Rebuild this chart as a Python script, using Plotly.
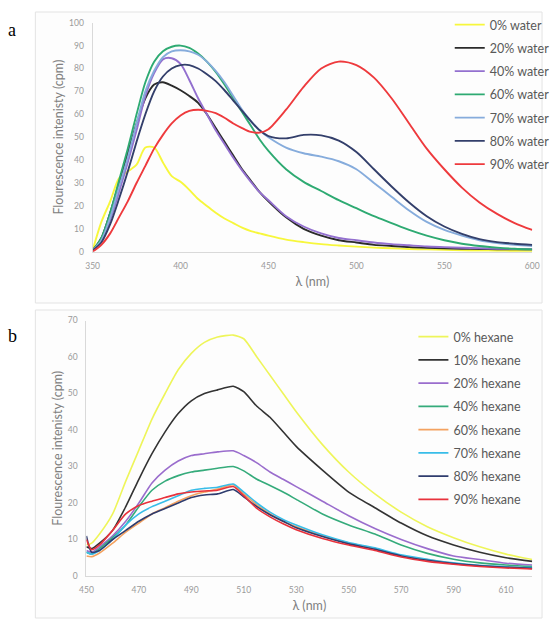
import plotly.graph_objects as go

# ---------------- Panel a data ----------------
wl_a = [350, 355, 360, 365, 370, 375, 380, 385, 390, 395, 400, 405, 410, 415, 420, 425,
        430, 435, 440, 445, 450, 460, 470, 480, 490, 500, 510, 520, 530, 540, 550, 560,
        570, 580, 590, 600]
water_0 = [0.5, 13, 22, 32, 35, 38, 45.5, 45.5, 39, 33, 30.5, 27, 23, 20, 17, 14.5,
           12.5, 10.5, 9, 8, 7, 5.3, 4.2, 3.3, 2.7, 2.2, 1.8, 1.5, 1.2, 1, 0.8, 0.6,
           0.5, 0.4, 0.3, 0.3]
water_20 = [0.5, 6, 17, 30, 43, 56, 67, 73, 74, 72.5, 70.5, 68, 65, 60, 54, 48,
            42, 36, 31, 26, 22, 15, 10, 7, 5, 4, 3, 2.5, 2, 1.7, 1.5, 1.3,
            1.2, 1.1, 1, 1]
water_40 = [0.5, 5, 14, 26, 39, 53, 68, 78, 84, 84.5, 82, 75, 67, 60, 53, 47,
            41, 35.5, 30.5, 26, 22.5, 15.5, 11, 8, 6, 5, 4, 3.3, 2.8, 2.3, 2, 1.7,
            1.5, 1.3, 1.2, 1]
water_60 = [0.5, 6, 17, 31, 45, 60, 74, 83, 87.5, 89.5, 90, 89, 86.5, 83, 78.5, 73,
            67, 61, 55, 49, 44, 36, 30.5, 26.5, 22.5, 19, 15.5, 12.5, 9.5, 7, 5, 3.5,
            2.5, 1.8, 1.3, 1]
water_70 = [0.5, 5, 15, 28, 41, 56, 70, 79, 85, 87.5, 88, 87.5, 86, 83, 79, 74,
            68, 62, 57, 53, 50, 45.5, 43, 41.5, 39.5, 36, 30, 24, 18, 13, 9.5, 7,
            5, 3.8, 3, 2.5]
water_80 = [0.5, 4, 12, 23, 35, 48, 60, 70, 76.5, 80, 81.5, 81.5, 80, 77.5, 74.5, 70.5,
            66, 61.5, 57, 53, 50.5, 49.5, 51, 50.8, 48.5, 43.5, 36, 28.5, 21.5, 15.5, 11, 7.8,
            5.5, 4.2, 3.5, 3]
water_90 = [0, 3, 8, 15, 22, 30, 37.5, 45, 51, 56, 59.5, 61.5, 62, 61.5, 60.5, 58.5,
            56, 54, 52.3, 52, 53.5, 62, 72, 80, 83, 81.5, 76, 67, 56, 45, 36, 28,
            21.5, 16.5, 12.5, 9.5]

names_a = ["0% water", "20% water", "40% water", "60% water", "70% water", "80% water", "90% water"]
series_a = [water_0, water_20, water_40, water_60, water_70, water_80, water_90]
colors_a = ["#f7f73c", "#2b2b2b", "#9370cf", "#2eaa72", "#86acdc", "#333f6b", "#ee3a3d"]

# ---------------- Panel b data ----------------
wl_b = [450, 452, 455, 460, 465, 470, 475, 480, 485, 490, 495, 500, 506, 510, 515, 520,
        525, 530, 540, 550, 560, 570, 580, 590, 600, 610, 620]
hex_0 = [8.5, 9, 11.5, 17, 26, 34.5, 43, 50, 56.5, 61, 64, 65.5, 66, 65, 60, 55,
         50, 45, 36, 28.5, 22.5, 17.5, 13.5, 10.5, 8, 6, 4.5]
hex_10 = [8, 7.5, 9, 12.5, 19, 26.5, 33.5, 39.5, 44.5, 48, 50, 51, 52, 50.5, 46.5, 43.5,
          39.5, 35.5, 29, 23, 18.7, 14.5, 11, 8.5, 6.5, 5, 4]
hex_20 = [7, 6.5, 8, 11, 15, 20, 25.5, 29, 31.5, 33, 33.5, 34, 34.3, 33, 31, 28.5,
          26.5, 24.5, 20.5, 16.5, 13, 10, 7.5, 5.5, 4.5, 3.5, 3]
hex_40 = [6.5, 6, 7.5, 10.5, 14, 19, 23.5, 26, 27.5, 28.5, 29, 29.5, 30, 28.8, 26.5, 24.8,
          23, 21, 17, 14, 11.5, 8.5, 6.2, 4.6, 3.6, 3, 2.6]
hex_60 = [5.5, 5.3, 6.3, 9, 12, 14.5, 17, 18.7, 20.5, 22, 23, 23.8, 25, 22.5, 19.5, 17,
          15, 13.5, 11, 9, 7.5, 5.5, 4.5, 3.5, 2.8, 2.4, 2.2]
hex_70 = [6.5, 6, 7, 10, 14, 17, 19, 20.5, 22, 23.5, 24, 24.3, 25.2, 23, 20, 17.5,
          15.5, 14, 11.3, 9.2, 7.7, 5.8, 4.6, 3.6, 2.9, 2.5, 2.3]
hex_80 = [11, 6.5, 7, 10, 12.5, 15, 17, 18.5, 20, 21.5, 22.2, 22.5, 23.7, 21.7, 19, 16.8,
          15, 13.2, 10.8, 8.8, 7.3, 5.5, 4.3, 3.4, 2.8, 2.4, 2.1]
hex_90 = [10, 7.2, 8.5, 12.5, 17, 19.3, 20.5, 21.5, 22.5, 23, 23.3, 23.5, 24.5, 22, 18.5, 16.2,
          14.3, 12.7, 10.3, 8.5, 7, 5.2, 4, 3.2, 2.6, 2.2, 1.9]

names_b = ["0% hexane", "10% hexane", "20% hexane", "40% hexane", "60% hexane",
           "70% hexane", "80% hexane", "90% hexane"]
series_b = [hex_0, hex_10, hex_20, hex_40, hex_60, hex_70, hex_80, hex_90]
colors_b = ["#eef55a", "#333333", "#9a6dcd", "#35ab7b", "#f4a260", "#38bde8", "#2f3c6e", "#e8323c"]

ticks_a = [350, 400, 450, 500, 550, 600]
ticks_b = [450, 470, 490, 510, 530, 550, 570, 590, 610]

W, H = 555, 619
FONT = "Lato"

fig = go.Figure()
for i, (n, s, c) in enumerate(zip(names_a, series_a, colors_a)):
    fig.add_trace(go.Scatter(x=wl_a, y=s, name=n, mode="lines",
                             line=dict(color=c, width=1.9, shape="spline", smoothing=0.8),
                             xaxis="x", yaxis="y", legend="legend", legendgroup="a%d" % i))
for i, (n, s, c) in enumerate(zip(names_b, series_b, colors_b)):
    fig.add_trace(go.Scatter(x=wl_b, y=s, name=n, mode="lines",
                             line=dict(color=c, width=1.6, shape="spline", smoothing=0.6),
                             xaxis="x2", yaxis="y2", legend="legend2", legendgroup="b%d" % i))

def px_x(p):
    return p / W

def px_y(p):
    return 1 - p / H

axis_common = dict(showgrid=False, zeroline=False, showline=True, linecolor="#d9d9d9",
                   linewidth=1, ticks="", tickfont=dict(family=FONT, size=8.5, color="#9a9a9a"),
                   ticklabelstandoff=6, automargin=False)
title_font = dict(family=FONT, size=12.5, color="#808080")

fig.update_layout(
    width=W, height=H,
    margin=dict(l=0, r=0, t=0, b=0),
    paper_bgcolor="white", plot_bgcolor="rgba(0,0,0,0)",
    xaxis=dict(domain=[px_x(94.3), px_x(542)], range=[350, 600], tickvals=ticks_a,
               anchor="y", title=dict(text="λ (nm)", font=title_font, standoff=7), **axis_common),
    yaxis=dict(domain=[px_y(251.7), px_y(22.7)], range=[0, 100], dtick=10, anchor="x",
               title=dict(text="Flourescence intenisty (cpm)", font=title_font, standoff=2),
               **axis_common),
    xaxis2=dict(domain=[px_x(88), px_x(542)], range=[450, 620], tickvals=ticks_b,
                anchor="y2", title=dict(text="λ (nm)", font=title_font, standoff=7), **axis_common),
    yaxis2=dict(domain=[px_y(576), px_y(320.5)], range=[0, 70], dtick=10, anchor="x2",
                title=dict(text="Flourescence intenisty (cpm)", font=title_font, standoff=2),
                **axis_common),
    legend=dict(x=px_x(458), y=px_y(10), xanchor="left", yanchor="top",
                font=dict(family=FONT, size=12.5, color="#595959"),
                bgcolor="rgba(0,0,0,0)", tracegroupgap=4, traceorder="grouped"),
    legend2=dict(x=px_x(421), y=px_y(322), xanchor="left", yanchor="top",
                 font=dict(family=FONT, size=12.5, color="#595959"),
                 bgcolor="rgba(0,0,0,0)", tracegroupgap=4, traceorder="grouped"),
    shapes=[
        dict(type="rect", xref="paper", yref="paper", x0=px_x(36), x1=px_x(552),
             y0=px_y(303), y1=px_y(12), line=dict(color="#e3e3e3", width=1),
             fillcolor="#fdfdfd", layer="below"),
        dict(type="rect", xref="paper", yref="paper", x0=px_x(36), x1=px_x(552),
             y0=px_y(618), y1=px_y(310), line=dict(color="#e3e3e3", width=1),
             fillcolor="#fdfdfd", layer="below"),
    ],
    annotations=[
        dict(text="a", x=px_x(12), y=px_y(30), xref="paper", yref="paper", showarrow=False,
             xanchor="center", yanchor="middle",
             font=dict(family="Liberation Serif", size=18, color="black")),
        dict(text="b", x=px_x(13), y=px_y(336), xref="paper", yref="paper", showarrow=False,
             xanchor="center", yanchor="middle",
             font=dict(family="Liberation Serif", size=18, color="black")),
    ],
)

fig.write_html("out.html")
